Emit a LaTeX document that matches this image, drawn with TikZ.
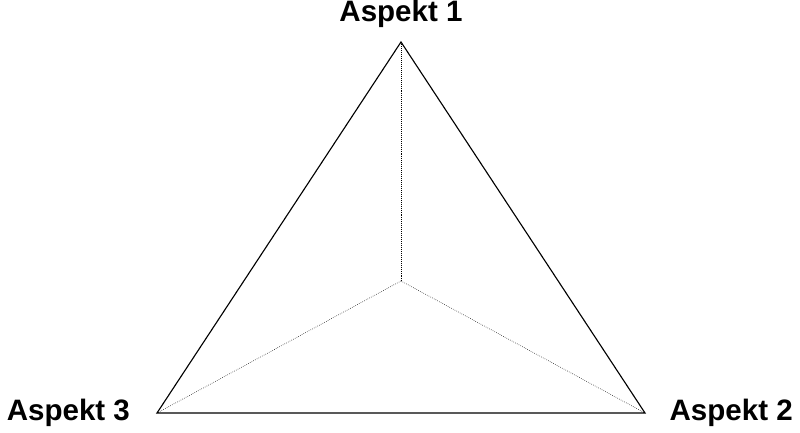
\documentclass[tikz,border=0pt]{standalone}
\usepackage{fontspec}
\setmainfont{Liberation Sans}
\begin{document}
\begin{tikzpicture}[label/.style={font=\fontsize{21}{24}\selectfont\bfseries}]
  \useasboundingbox (0,0) rectangle (20,10.825);
  \coordinate (top) at (10.025,9.775);
  \coordinate (left) at (3.925,0.5);
  \coordinate (right) at (16.125,0.5);
  \coordinate (mid) at (10.025,3.8);
  \draw[thick] (top) -- (right) -- (left) -- cycle;
  \draw[densely dotted] (mid) -- (top);
  \draw[densely dotted] (mid) -- (left);
  \draw[densely dotted] (mid) -- (right);
  \node[label] (a1) at (10.025,10.475) {Aspekt 1};
  \node[label] (a2) at (18.28,0.5) {Aspekt 2};
  \node[label] (a3) at (1.71,0.5) {Aspekt 3};
\end{tikzpicture}
\end{document}
